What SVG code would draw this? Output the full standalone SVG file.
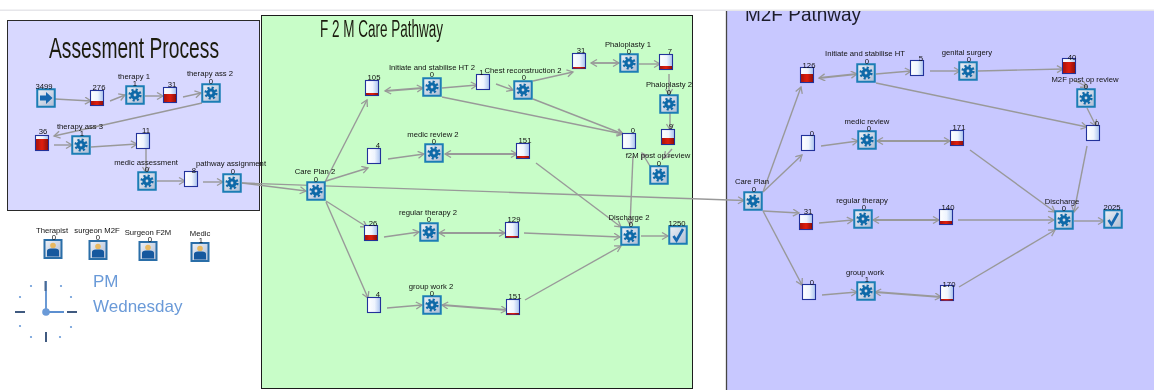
<svg xmlns="http://www.w3.org/2000/svg" xmlns:xlink="http://www.w3.org/1999/xlink" width="1154" height="390" viewBox="0 0 1154 390">
<style>
text{font-family:"Liberation Sans",Arial,sans-serif}
.lb{font-size:7.700px;fill:#111;text-anchor:middle}
.title{font-family:"Liberation Sans Narrow","Liberation Sans",sans-serif;fill:#1c1c10}
.c line{stroke:#999;stroke-width:1.400;fill:none;marker-end:url(#arr)}
.c line.b{stroke-width:1.800;marker-start:url(#arr)}
.red{fill:url(#redg)}
.clock{fill:#6a9ad8;font-size:17px}
.dot{fill:#6a9ad8}
</style>
<defs>
<filter id="soft" x="0" y="0" width="100%" height="100%"><feGaussianBlur stdDeviation="0.35"/></filter>
<linearGradient id="boxg" x1="0" y1="0" x2="1" y2="1"><stop offset="0" stop-color="#eef2f8"/><stop offset="1" stop-color="#aebcd4"/></linearGradient>
<linearGradient id="cong" x1="0" y1="0" x2="1" y2="0"><stop offset="0" stop-color="#fff"/><stop offset="0.55" stop-color="#eef4fe"/><stop offset="1" stop-color="#a8c2ee"/></linearGradient>
<linearGradient id="redg" x1="0" y1="0" x2="1" y2="0"><stop offset="0" stop-color="#a81208"/><stop offset="0.5" stop-color="#e02010"/><stop offset="1" stop-color="#8e1006"/></linearGradient>
<marker id="arr" markerUnits="userSpaceOnUse" markerWidth="9" markerHeight="9" refX="7" refY="4" orient="auto-start-reverse"><path d="M1,0.5 L7,4 L1,7.5" fill="none" stroke="#999" stroke-width="1.300"/></marker>
<g id="proc"><rect x="-8.750" y="-8.750" width="17.500" height="17.500" fill="url(#boxg)" stroke="#1b7db5" stroke-width="2"/><circle r="5.300" fill="none" stroke="#0f69a8" stroke-width="2.600" stroke-dasharray="2.080 2.080"/><circle r="3" fill="none" stroke="#0f69a8" stroke-width="3.200"/></g>
<g id="cont"><rect x="-6.500" y="-7.500" width="13" height="15" fill="url(#cong)" stroke="#22309a" stroke-width="1.100"/></g>
<g id="sink"><rect x="-8.750" y="-8.750" width="17.500" height="17.500" fill="url(#boxg)" stroke="#1b7db5" stroke-width="2"/><path d="M-4.500,1 L-1.500,5.500 L5,-6" fill="none" stroke="#1268b0" stroke-width="2.600"/></g>
<g id="src"><rect x="-8.750" y="-8.750" width="17.500" height="17.500" fill="url(#boxg)" stroke="#1b7db5" stroke-width="2"/><path d="M-6,-2.500 H0 V-6 L6.500,0 L0,6 V2.500 H-6 Z" fill="#1268b0"/></g>
<g id="res"><rect x="-8.500" y="-9" width="17" height="18" fill="url(#boxg)" stroke="#2b6ea8" stroke-width="2"/><circle cy="-3.500" r="2.800" fill="#e8b860"/><path d="M-6,7.500 V2 Q-6,-0.500 -2,-0.500 H2 Q6,-0.500 6,2 V7.500 Z" fill="#14589e"/></g>
<clipPath id="m2fclip"><rect x="726" y="11" width="428" height="379"/></clipPath>
</defs>
<rect width="1154" height="390" fill="#fff"/>
<g filter="url(#soft)">
<rect x="0" y="9.500" width="1154" height="1.500" fill="#e6e6ea"/>
<rect x="7.500" y="20.500" width="252" height="190" fill="#d8d8ff" stroke="#2a2a2a" stroke-width="1"/>
<rect x="261.500" y="15.500" width="431" height="373" fill="#c8fdc8" stroke="#1a1a1a" stroke-width="1"/>
<rect x="726.500" y="11" width="428" height="379" fill="#c8c8ff"/>
<line x1="726.500" y1="11" x2="726.500" y2="390" stroke="#444" stroke-width="1.300"/>
<text class="title" x="49" y="58" font-size="30" textLength="170" lengthAdjust="spacingAndGlyphs">Assesment Process</text>
<text class="title" x="320" y="36.500" font-size="23" textLength="123" lengthAdjust="spacingAndGlyphs">F 2 M Care Pathway</text>
<g clip-path="url(#m2fclip)"><text x="745" y="21" font-size="20" fill="#1c1c2a" textLength="116" lengthAdjust="spacingAndGlyphs">M2F Pathway</text></g>

<g id="connectors" class="c">
<line x1="55" y1="99" x2="91" y2="101"/><line x1="110" y1="101" x2="125" y2="95"/><line x1="145" y1="96" x2="163" y2="96"/><line x1="183" y1="97" x2="201" y2="93"/><line x1="202" y1="103" x2="54" y2="136"/><line x1="54" y1="145" x2="72" y2="145"/><line x1="91" y1="147" x2="137" y2="144"/><line x1="146" y1="144" x2="146" y2="173"/><line x1="157" y1="181" x2="185" y2="181"/><line x1="203" y1="182" x2="223" y2="182"/>
<line x1="242" y1="183" x2="306" y2="191"/><line x1="242" y1="183" x2="744" y2="200.500"/>
<line x1="325" y1="182" x2="367" y2="100"/><line x1="326" y1="181" x2="368" y2="168"/><line x1="326" y1="201" x2="367" y2="227"/><line x1="326" y1="202" x2="368" y2="298"/>
<line class="b" x1="385" y1="91" x2="423" y2="88"/><line x1="442" y1="88" x2="477" y2="85"/><line x1="442" y1="97" x2="623" y2="134"/><line x1="496" y1="84" x2="513" y2="90"/><line x1="533" y1="81" x2="573" y2="72"/><line x1="533" y1="99" x2="623" y2="134"/><line class="b" x1="591" y1="63" x2="619" y2="63"/><line x1="639" y1="64" x2="660" y2="64"/><line x1="669" y1="74" x2="669" y2="95"/><line x1="670" y1="113" x2="670" y2="130"/><line x1="672" y1="149" x2="664" y2="158"/><line x1="650" y1="166" x2="642" y2="153"/><line x1="633" y1="156" x2="630" y2="225"/>
<line x1="388" y1="159" x2="424" y2="154"/><line class="b" x1="445" y1="154" x2="517" y2="154"/><line x1="536" y1="163" x2="621" y2="227"/>
<line x1="384" y1="237" x2="419" y2="232"/><line class="b" x1="439" y1="233" x2="505" y2="233"/><line x1="524" y1="233" x2="620" y2="237"/><line x1="641" y1="236" x2="668" y2="236"/>
<line x1="387" y1="308" x2="422" y2="305"/><line class="b" x1="442" y1="305" x2="507" y2="310"/><line x1="525" y1="300" x2="621" y2="246"/>
<line x1="763" y1="192" x2="801" y2="87"/><line x1="763" y1="192" x2="802" y2="155"/><line x1="763" y1="211" x2="799" y2="213"/><line x1="763" y1="211" x2="802" y2="285"/>
<line class="b" x1="819" y1="78" x2="857" y2="74"/><line x1="876" y1="74" x2="911" y2="71"/><line x1="930" y1="71" x2="960" y2="71"/><line x1="978" y1="71" x2="1063" y2="69"/><line x1="876" y1="83" x2="1087" y2="127"/><line x1="1074" y1="80" x2="1087" y2="87"/><line x1="1087" y1="108" x2="1096" y2="126"/><line x1="1087" y1="146" x2="1074" y2="212"/>
<line x1="821" y1="146" x2="858" y2="141"/><line class="b" x1="877" y1="141" x2="950" y2="141"/><line x1="970" y1="150" x2="1055" y2="212"/>
<line x1="819" y1="223" x2="853" y2="220"/><line class="b" x1="873" y1="220" x2="939" y2="220"/><line x1="958" y1="220" x2="1054" y2="220"/><line x1="1074" y1="221" x2="1104" y2="221"/>
<line x1="822" y1="295" x2="857" y2="292"/><line class="b" x1="875" y1="292" x2="941" y2="297"/><line x1="959" y1="287" x2="1055" y2="230"/>
</g>

<g id="a-source"><use href="#src" x="46" y="98"/><text class="lb" x="44" y="89">3499</text></g>
<g id="a-q276"><use href="#cont" x="97" y="98"/><rect class="red" x="91" y="101" width="12" height="4"/><text class="lb" x="99" y="90">276</text></g>
<g id="a-therapy1"><use href="#proc" x="135" y="95"/><text class="lb" x="134" y="79">therapy 1</text><text class="lb" x="135" y="86">1</text></g>
<g id="a-q31"><use href="#cont" x="170" y="95"/><rect class="red" x="164" y="94" width="12" height="8"/><text class="lb" x="172" y="87">31</text></g>
<g id="a-ass2"><use href="#proc" x="211" y="93"/><text class="lb" x="210" y="76">therapy ass 2</text><text class="lb" x="211" y="84">0</text></g>
<g id="a-q36"><use href="#cont" x="42" y="143"/><rect class="red" x="36" y="139" width="12" height="11"/><text class="lb" x="43" y="134">36</text></g>
<g id="a-ass3"><use href="#proc" x="81" y="145"/><text class="lb" x="80" y="129">therapy ass 3</text><text class="lb" x="82" y="136">1</text></g>
<g id="a-q11"><use href="#cont" x="143" y="141"/><text class="lb" x="146" y="133">11</text></g>
<g id="a-medic"><use href="#proc" x="147" y="181"/><text class="lb" x="146" y="165">medic assessment</text><text class="lb" x="147" y="172">0</text></g>
<g id="a-q8"><use href="#cont" x="191" y="179"/><text class="lb" x="194" y="172.500">8</text></g>
<g id="a-path"><use href="#proc" x="232" y="183"/><text class="lb" x="231" y="166">pathway assignment</text><text class="lb" x="233" y="174">0</text></g>

<g id="r-therapist"><use href="#res" x="53" y="249"/><text class="lb" x="52" y="233">Therapist</text><text class="lb" x="54" y="240">0</text></g>
<g id="r-m2f"><use href="#res" x="98" y="250"/><text class="lb" x="97" y="233">surgeon M2F</text><text class="lb" x="98" y="240">0</text></g>
<g id="r-f2m"><use href="#res" x="148" y="251"/><text class="lb" x="148" y="235">Surgeon F2M</text><text class="lb" x="150" y="242">0</text></g>
<g id="r-medic"><use href="#res" x="200" y="252"/><text class="lb" x="200" y="236">Medic</text><text class="lb" x="201" y="243">1</text></g>

<g id="clock">
<path d="M15,312 H25 M67,312 H77 M46,332 V342" stroke="#3f5a80" stroke-width="2" fill="none"/>
<path d="M46,281 V312 M46,312 H64" stroke="#5b8fd0" stroke-width="1.800" fill="none"/><path d="M45.500,281 V291" stroke="#4a6a94" stroke-width="2"/>
<circle class="dot" cx="46" cy="312" r="3.800"/>
<g class="dot"><circle cx="31" cy="286" r="1.100"/><circle cx="61" cy="286" r="1.100"/><circle cx="20" cy="297" r="1.100"/><circle cx="71" cy="297" r="1.100"/><circle cx="20" cy="326" r="1.100"/><circle cx="71" cy="327" r="1.100"/><circle cx="31" cy="337" r="1.100"/><circle cx="60" cy="337" r="1.100"/></g>
<text class="clock" x="93" y="287">PM</text><text class="clock" x="93" y="312">Wednesday</text>
</g>

<g id="f-cp"><use href="#proc" x="316" y="191"/><text class="lb" x="315" y="174">Care Plan 2</text><text class="lb" x="316" y="182">0</text></g>
<g id="f-q105"><use href="#cont" x="372" y="88"/><rect class="red" x="366" y="93" width="12" height="2"/><text class="lb" x="374" y="80">105</text></g>
<g id="f-init"><use href="#proc" x="432" y="87"/><text class="lb" x="432" y="70">Initiate and stabilise HT 2</text><text class="lb" x="432" y="77">0</text></g>
<g id="f-q1"><use href="#cont" x="483" y="82"/><text class="lb" x="481.500" y="74.500">1</text></g>
<g id="f-q4a"><use href="#cont" x="374" y="156"/><text class="lb" x="378" y="148">4</text></g>
<g id="f-medic"><use href="#proc" x="434" y="153"/><text class="lb" x="433" y="137">medic review 2</text><text class="lb" x="434" y="144">0</text></g>
<g id="f-chest"><use href="#proc" x="523" y="90"/><text class="lb" x="523" y="73">Chest reconstruction 2</text><text class="lb" x="524" y="80">0</text></g>
<g id="f-q31"><use href="#cont" x="579" y="61"/><rect class="red" x="573" y="67" width="12" height="1.500"/><text class="lb" x="581" y="53">31</text></g>
<g id="f-ph1"><use href="#proc" x="629" y="63"/><text class="lb" x="628" y="47">Phaloplasty 1</text><text class="lb" x="629" y="54">0</text></g>
<g id="f-q7"><use href="#cont" x="666" y="62"/><rect class="red" x="660" y="66" width="12" height="3"/><text class="lb" x="670" y="54">7</text></g>
<g id="f-ph2"><use href="#proc" x="669" y="104"/><text class="lb" x="669" y="87">Phaloplasty 2</text><text class="lb" x="669" y="95">0</text></g>
<g id="f-q9"><use href="#cont" x="668" y="137"/><rect class="red" x="662" y="138" width="12" height="6"/><text class="lb" x="671" y="129">9</text></g>
<g id="f-q0"><use href="#cont" x="629" y="141"/><text class="lb" x="633" y="133">0</text></g>
<g id="f-post"><use href="#proc" x="659" y="175"/><text class="lb" x="658" y="158">f2M post op review</text><text class="lb" x="659" y="166">0</text></g>
<g id="f-q151a"><use href="#cont" x="523" y="151"/><rect class="red" x="517" y="156" width="12" height="2"/><text class="lb" x="525" y="143">151</text></g>
<g id="f-q26"><use href="#cont" x="371" y="233"/><rect class="red" x="365" y="235" width="12" height="5"/><text class="lb" x="373" y="226">26</text></g>
<g id="f-reg"><use href="#proc" x="429" y="232"/><text class="lb" x="428" y="215">regular therapy 2</text><text class="lb" x="429" y="222">0</text></g>
<g id="f-q129"><use href="#cont" x="512" y="230"/><rect class="red" x="506" y="236" width="12" height="1.500"/><text class="lb" x="514" y="222">129</text></g>
<g id="f-dis"><use href="#proc" x="630" y="236"/><text class="lb" x="629" y="220">Discharge 2</text><text class="lb" x="631" y="227">0</text></g>
<g id="f-sink"><use href="#sink" x="678" y="235"/><text class="lb" x="677" y="226">1250</text></g>
<g id="f-q4b"><use href="#cont" x="374" y="305"/><text class="lb" x="378" y="297">4</text></g>
<g id="f-grp"><use href="#proc" x="432" y="305"/><text class="lb" x="431" y="289">group work 2</text><text class="lb" x="432" y="296">0</text></g>
<g id="f-q151b"><use href="#cont" x="513" y="307"/><rect class="red" x="507" y="313" width="12" height="1.500"/><text class="lb" x="515" y="299">151</text></g>

<g id="m-cp"><use href="#proc" x="753" y="201"/><text class="lb" x="752" y="184">Care Plan</text><text class="lb" x="754" y="192">0</text></g>
<g id="m-q126"><use href="#cont" x="807" y="75"/><rect class="red" x="801" y="74" width="12" height="8"/><text class="lb" x="809" y="68">126</text></g>
<g id="m-init"><use href="#proc" x="866" y="73"/><text class="lb" x="865" y="56">Initiate and stabilise HT</text><text class="lb" x="867" y="64">0</text></g>
<g id="m-q5"><use href="#cont" x="917" y="68"/><text class="lb" x="921" y="61">5</text></g>
<g id="m-q0a"><use href="#cont" x="808" y="143"/><text class="lb" x="812" y="136">0</text></g>
<g id="m-medic"><use href="#proc" x="867" y="140"/><text class="lb" x="867" y="124">medic review</text><text class="lb" x="869" y="131">0</text></g>
<g id="m-gen"><use href="#proc" x="968" y="71"/><text class="lb" x="967" y="55">genital surgery</text><text class="lb" x="969" y="62">0</text></g>
<g id="m-q40"><use href="#cont" x="1069" y="66"/><rect class="red" x="1063" y="62" width="12" height="11"/><text class="lb" x="1072" y="60">40</text></g>
<g id="m-post"><use href="#proc" x="1086" y="98"/><text class="lb" x="1085" y="82">M2F post op review</text><text class="lb" x="1086" y="89">0</text></g>
<g id="m-q0b"><use href="#cont" x="1093" y="133"/><text class="lb" x="1097" y="126">0</text></g>
<g id="m-q171"><use href="#cont" x="957" y="138"/><rect class="red" x="951" y="141" width="12" height="4"/><text class="lb" x="959" y="130">171</text></g>
<g id="m-dis"><use href="#proc" x="1064" y="220"/><text class="lb" x="1062" y="204">Discharge</text><text class="lb" x="1064" y="211">0</text></g>
<g id="m-sink"><use href="#sink" x="1113" y="219"/><text class="lb" x="1112" y="210">2025</text></g>
<g id="m-q140"><use href="#cont" x="946" y="217"/><rect class="red" x="940" y="221" width="12" height="3"/><text class="lb" x="948" y="210">140</text></g>
<g id="m-q31"><use href="#cont" x="806" y="222"/><rect class="red" x="800" y="223" width="12" height="6"/><text class="lb" x="808" y="214">31</text></g>
<g id="m-reg"><use href="#proc" x="863" y="219"/><text class="lb" x="862" y="203">regular therapy</text><text class="lb" x="864" y="210">0</text></g>
<g id="m-q0c"><use href="#cont" x="809" y="292"/><text class="lb" x="812" y="285">0</text></g>
<g id="m-grp"><use href="#proc" x="866" y="291"/><text class="lb" x="865" y="275">group work</text><text class="lb" x="867" y="282">1</text></g>
<g id="m-q170"><use href="#cont" x="947" y="293"/><rect class="red" x="941" y="299" width="12" height="1.500"/><text class="lb" x="949" y="287">170</text></g>
</g>
</svg>
